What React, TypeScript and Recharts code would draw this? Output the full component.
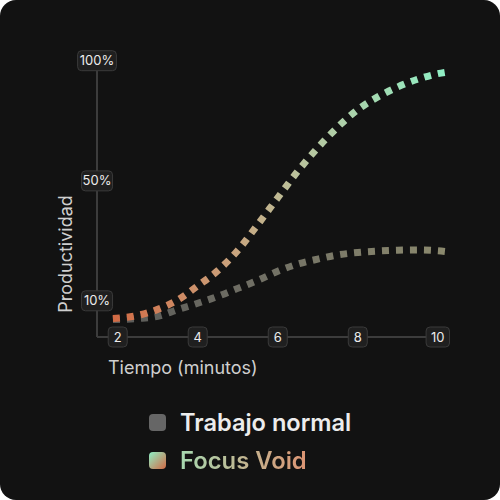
import { LineChart, Line, XAxis, YAxis, ReferenceLine } from 'recharts'

// minutos (x) and productividad in plot units (y)
const minutes = [1.88, 2.5, 3, 3.5, 4, 4.5, 5, 5.5, 6, 6.5, 7, 7.5, 8, 8.5, 9, 9.5, 10, 10.28]
const trabajoNormal = [6.3, 6.7, 7.5, 9.9, 12.2, 14.7, 17.6, 20.5, 23.8, 26.4, 28.2, 29.7, 30.6, 31.1, 31.4, 31.5, 31.2, 30.8]
const focusVoid = [6.7, 7.8, 10, 13.4, 18.5, 24, 31.3, 40.7, 50.4, 60, 68.5, 76, 82.3, 86.9, 90.5, 93.3, 95.3, 96]

const xTicks = [2, 4, 6, 8, 10]
const yTicks = [13.1, 56.5, 100]
const yTickLabels = ['10%', '50%', '100%']

const data = minutes.map((m, i) => ({ m, normal: trabajoNormal[i], focus: focusVoid[i] }))

const BoxTick = ({ x, y, payload, fmt }: any) => {
  const label = fmt(payload.value)
  const w = Math.max(19, label.length * 7.7 + 8)
  return (
    <g transform={`translate(${x},${y})`}>
      <rect x={-w / 2} y={-10} width={w} height={20} rx={4} fill="#1f1f1f" stroke="#3a3a3a" />
      <text textAnchor="middle" dy={4.5} fill="#ececec" fontSize={13} fontFamily="Inter">
        {label}
      </text>
    </g>
  )
}

export default function App() {
  return (
    <div
      style={{
        position: 'absolute',
        top: 0,
        left: 0,
        width: 500,
        height: 500,
        background: '#121212',
        borderRadius: 16,
        fontFamily: 'Inter, sans-serif',
        overflow: 'hidden',
      }}
    >
      <LineChart
        width={500}
        height={380}
        data={data}
        margin={{ top: 60.7, right: 51, left: 96, bottom: 42 }}
        style={{ position: 'absolute', top: 0, left: 0, overflow: 'visible' }}
      >
        <defs>
          <linearGradient id="gFocus" x1="0" y1="0" x2="1" y2="0">
            <stop offset="0" stopColor="#d26a44" />
            <stop offset="0.35" stopColor="#caa27c" />
            <stop offset="0.55" stopColor="#bac29c" />
            <stop offset="1" stopColor="#8ef0c6" />
          </linearGradient>
          <linearGradient id="gNormal" x1="0" y1="0" x2="1" y2="0">
            <stop offset="0" stopColor="#5a5a58" />
            <stop offset="0.4" stopColor="#6f6e64" />
            <stop offset="1" stopColor="#8c8a6e" />
          </linearGradient>
        </defs>
        <XAxis
          dataKey="m"
          type="number"
          domain={[1.4825, 10.28]}
          ticks={xTicks}
          height={1}
          axisLine={false}
          tickLine={false}
          tickSize={0}
          tickMargin={0}
          interval={0}
          tick={<BoxTick fmt={(v: number) => String(v)} />}
        />
        <YAxis
          type="number"
          domain={[0, 100]}
          ticks={yTicks}
          width={1}
          axisLine={{ stroke: '#3c3c3c', strokeWidth: 2 }}
          tickLine={false}
          tickSize={0}
          tickMargin={0}
          interval={0}
          tick={<BoxTick fmt={(v: number) => yTickLabels[yTicks.indexOf(v)]} />}
        />
        <ReferenceLine
          segment={[{ x: 1.4825, y: 0 }, { x: 10, y: 0 }]}
          stroke="#3c3c3c"
          strokeWidth={2}
        />
        <Line
          dataKey="normal"
          type="monotone"
          stroke="url(#gNormal)"
          strokeWidth={7}
          strokeDasharray="7 7"
          dot={false}
          isAnimationActive={false}
        />
        <Line
          dataKey="focus"
          type="monotone"
          stroke="url(#gFocus)"
          strokeWidth={7}
          strokeDasharray="7 7"
          dot={false}
          isAnimationActive={false}
        />
      </LineChart>
      <div
        style={{
          position: 'absolute',
          left: 65,
          top: 254,
          transform: 'translate(-50%, -50%) rotate(-90deg)',
          color: '#cfcfcf',
          fontSize: 18,
          whiteSpace: 'nowrap',
        }}
      >
        Productividad
      </div>
      <div style={{ position: 'absolute', left: 108, top: 357, color: '#cfcfcf', fontSize: 18 }}>
        Tiempo (minutos)
      </div>
      <div style={{ position: 'absolute', left: 149, top: 407 }}>
        <div style={{ display: 'flex', alignItems: 'center', height: 30 }}>
          <div style={{ width: 17, height: 17, borderRadius: 4, background: '#666666', marginRight: 14 }} />
          <span style={{ color: '#ececec', fontSize: 23.6, fontWeight: 600 }}>Trabajo normal</span>
        </div>
        <div style={{ display: 'flex', alignItems: 'center', height: 30, marginTop: 8 }}>
          <div
            style={{
              width: 17,
              height: 17,
              borderRadius: 4,
              background: 'linear-gradient(135deg, #8ef0c6, #d26a44)',
              marginRight: 14,
            }}
          />
          <span
            style={{
              fontSize: 23.8,
              fontWeight: 600,
              background: 'linear-gradient(90deg, #a6d8b0, #dc9473)',
              WebkitBackgroundClip: 'text',
              backgroundClip: 'text',
              color: 'transparent',
            }}
          >
            Focus Void
          </span>
        </div>
      </div>
    </div>
  )
}
